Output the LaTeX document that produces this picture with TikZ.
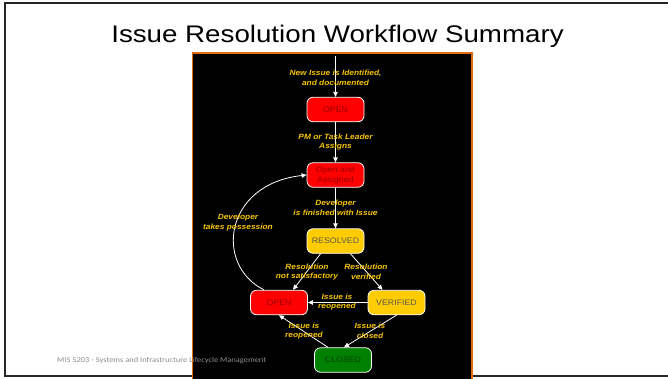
\documentclass[tikz,border=0pt]{standalone}
\usepackage{fontspec}
\setmainfont{Liberation Sans}
\newfontfamily\titlefont[FakeStretch=1.155]{Liberation Sans}
\newfontfamily\labelfont[FakeStretch=1.1]{Liberation Sans}
\newfontfamily\footfont[FakeStretch=1.14]{Carlito}
\usetikzlibrary{arrows.meta}

\definecolor{statered}{HTML}{FF0000}
\definecolor{stategold}{HTML}{FFCC00}
\definecolor{stategreen}{HTML}{008000}
\definecolor{labelgold}{HTML}{F5C400}
\definecolor{panelorange}{HTML}{E46C0A}
\definecolor{framegray}{HTML}{262626}
\definecolor{footgray}{HTML}{8C8C8C}

\tikzset{
  state/.style={draw=white, line width=0.8pt, rounded corners=6pt,
    minimum width=57pt, minimum height=24.5pt, inner sep=1pt, align=center,
    font=\labelfont\fontsize{8}{10}\selectfont},
  redstate/.style={state, fill=statered, text=red!60!black},
  goldstate/.style={state, fill=stategold, text=black!65},
  greenstate/.style={state, fill=stategreen, text=green!25!black},
  flow/.style={draw=white, line width=0.8pt, -{Triangle[length=5pt,width=4.5pt]}},
  lbl/.style={text=labelgold, align=center, inner sep=0pt,
    font=\labelfont\fontsize{7.6}{9.6}\selectfont\bfseries\itshape},
}

\begin{document}
\begin{tikzpicture}[x=1pt, y=-1pt]
  \useasboundingbox (0,0) rectangle (668,378);
  \fill[white] (0,0) rectangle (668,378);
  % slide frame (right edge lies off the page)
  \draw[framegray, line width=2pt] (675,3) -- (5,3) -- (5,376) -- (675,376);

  % title
  \node[anchor=base, font=\titlefont\fontsize{24}{28}\selectfont, text=black] (title) at (337.5,42) {Issue Resolution Workflow Summary};

  % black panel holding the workflow
  \draw[panelorange, line width=1.2pt, fill=black] (192.5,53) rectangle (472,382);

  % states
  \node[redstate]   (open)     at (335.5,109.5) {OPEN};
  \node[redstate]   (assigned) at (335.5,175)   {Open and\\Assigned};
  \node[goldstate]  (resolved) at (335.5,241)   {RESOLVED};
  \node[redstate]   (reopen)   at (279,302.5)   {OPEN};
  \node[goldstate]  (verified) at (396.5,302.5) {VERIFIED};
  \node[greenstate] (closed)   at (343,360)     {CLOSED};

  \coordinate (entry) at (335.5,56);

  % transitions
  \draw[flow] (entry) -- (open);
  \draw[flow] (open) -- (assigned);
  \draw[flow] (assigned) -- (resolved);
  \draw[flow] ([xshift=14pt]resolved.south west) -- ([xshift=14pt]reopen.north);
  \draw[flow] ([xshift=-14pt]resolved.south east) -- ([xshift=-14pt]verified.north);
  \draw[flow] (verified) -- (reopen);
  \draw[flow] ([xshift=-15pt]closed.north) -- (reopen.south);
  \draw[flow] (verified.south) -- ([xshift=1pt]closed.north);
  \draw[flow] ([xshift=-15pt]reopen.north) .. controls (214,265) and (224,184) .. (assigned.west);

  % transition labels
  \node[lbl] (l1) at (335.5,78)  {New Issue is Identified,\\and documented};
  \node[lbl] (l2) at (335.5,142) {PM or Task Leader\\Assigns};
  \node[lbl] (l3) at (335.5,208) {Developer\\is finished with Issue};
  \node[lbl] (l4) at (238,222.5) {Developer\\takes possession};
  \node[lbl] (l5) at (307,272)   {Resolution\\not satisfactory};
  \node[lbl] (l6) at (366,272)   {Resolution\\verified};
  \node[lbl] (l7) at (337,302)   {Issue is\\reopened};
  \node[lbl] (l8) at (304,331)   {Issue is\\reopened};
  \node[lbl] (l9) at (370,331)   {Issue is\\closed};

  % footer
  \node[anchor=west, text=footgray, inner sep=0pt, font=\footfont\fontsize{7.4}{9}\selectfont] (footer) at (57,361) {MIS 5203 - Systems and Infrastructure Lifecycle Management};
\end{tikzpicture}
\end{document}
